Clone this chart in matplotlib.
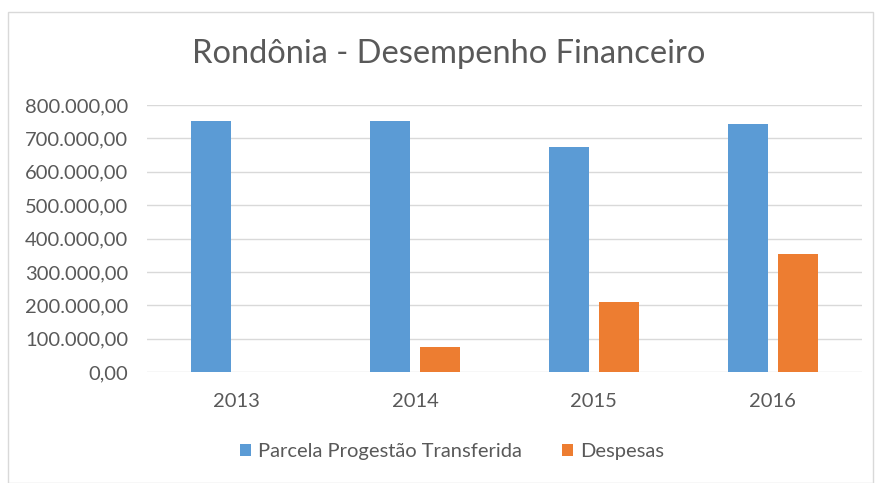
import numpy as np
import matplotlib.pyplot as plt
from matplotlib.patches import Rectangle

anos = ["2013", "2014", "2015", "2016"]
parcela = [751000, 752000, 673000, 742000]
despesas = [0, 75000, 211000, 354000]
yticks = [0, 100000, 200000, 300000, 400000, 500000, 600000, 700000, 800000]

azul = "#5B9BD5"
laranja = "#ED7D31"
cinza = "#595959"

plt.rcParams['font.family'] = ['Lato', 'DejaVu Sans']

fig = plt.figure(figsize=(8.75, 4.83), dpi=100)
ax = fig.add_axes([147/875, 1-372/483, (862-147)/875, (372-105)/483])

x = np.arange(len(anos))
w = 0.224
ax.bar(x - 0.14, parcela, w, color=azul, label="Parcela Progestão Transferida", zorder=3)
ax.bar(x + 0.14, despesas, w, color=laranja, label="Despesas", zorder=3)

ax.set_xlim(-0.5, 3.5)
ax.set_ylim(0, 800000)
ax.set_yticks(yticks)
ax.set_yticklabels([f"{v:,.2f}".replace(",", "X").replace(".", ",").replace("X", ".") for v in yticks])
ax.set_xticks(x)
ax.set_xticklabels(anos)
ax.tick_params(axis="both", length=0, labelsize=14.5, colors=cinza)
ax.tick_params(axis="y", pad=13.5)
ax.tick_params(axis="x", pad=15)
ax.grid(axis="y", color="#D9D9D9", linewidth=1, zorder=0)
for s in ax.spines.values():
    s.set_visible(False)

fig.text(449/875, 1-54/483, "Rondônia - Desempenho Financeiro", ha="center", va="center",
         fontsize=23.5, color=cinza)

fig.legend(loc="center", bbox_to_anchor=(452/875, 1-452/483), ncol=2, frameon=False,
           fontsize=14.5, labelcolor=cinza, handlelength=0.55, handleheight=0.55,
           handletextpad=0.35, columnspacing=2.0)

fig.patches.append(Rectangle((8/875, 0), 865/875, 1-12/483, transform=fig.transFigure,
                             fill=False, edgecolor="#D9D9D9", linewidth=1))

fig.savefig("out.png", dpi=100, facecolor="white")
